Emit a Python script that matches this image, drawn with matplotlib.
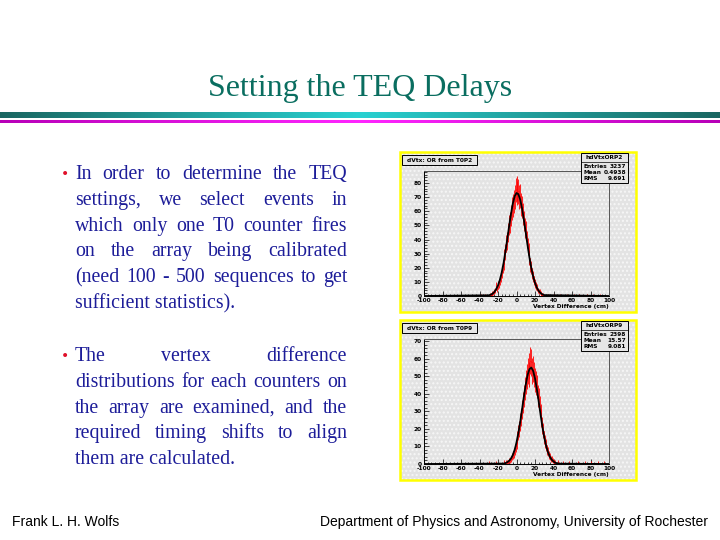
import numpy as np
import matplotlib.pyplot as plt
from matplotlib.patches import Rectangle
from matplotlib.ticker import MultipleLocator

plt.rcParams["axes.unicode_minus"] = False

W, H = 720, 540

title = "Setting the TEQ Delays"
bullet1 = ["In order to determine the TEQ",
           "settings, we select events in",
           "which only one T0 counter fires",
           "on the array being calibrated",
           "(need 100 - 500 sequences to get",
           "sufficient statistics)."]
bullet2 = ["The vertex difference",
           "distributions for each counters on",
           "the array are examined, and the",
           "required timing shifts to align",
           "them are calculated."]
footer_left = "Frank L. H. Wolfs"
footer_right = "Department of Physics and Astronomy, University of Rochester"

# panel 1: T0P2, 1 cm bins from -30 to 30
h1_x = np.arange(-30, 31)
h1_y = [0, 1, 1, 1, 2, 2, 3, 4, 7, 5, 8, 9, 11, 14, 17, 21, 23, 28, 31, 37,
        39, 45, 50, 52, 57, 62, 64, 67, 70, 75, 76, 73, 74, 70, 71, 65, 63, 58, 53, 48,
        46, 40, 35, 32, 27, 22, 20, 16, 14, 11, 9, 7, 6, 4, 3, 3, 2, 1, 1, 1, 0]
h1_tail = [-38, -34, 34, 41, 47, 55, 62, 68, 76, 83, 90]
fit1_x = [-100] + list(range(-30, 31, 2)) + [100]
fit1_y = [0, 0.5, 0.9, 1.6, 2.8, 4.7, 7.5, 11.4, 16.6, 23.3, 31.3, 40.1, 49.3, 58.0,
          65.4, 70.6, 72.9, 72.1, 68.3, 62.0, 53.9, 44.8, 35.7, 27.2, 19.8, 13.9, 9.3,
          5.9, 3.6, 2.1, 1.2, 0.65, 0]

# panel 2: T0P9, 1 cm bins from -15 to 45
h2_x = np.arange(-15, 46)
h2_y = [0, 0, 1, 0, 1, 1, 1, 2, 2, 3, 4, 5, 6, 8, 10, 12, 15, 18, 20, 24,
        27, 31, 35, 39, 43, 47, 50, 53, 51, 56, 59, 58, 53, 54, 51, 48, 46, 44, 39, 37,
        33, 29, 26, 22, 19, 15, 13, 11, 8, 7, 5, 4, 3, 3, 2, 1, 1, 1, 0, 0, 1]
h2_tail = [-30, -22, 50, 57, 66, 74, 81, 88, 95]
fit2_x = [-100] + list(range(-14, 47, 2)) + [100]
fit2_y = [0, 0.25, 0.5, 1.0, 1.8, 3.1, 5.1, 8.1, 12.3, 17.6, 24.0, 31.1, 38.5, 45.3,
          50.8, 54.1, 55.0, 53.1, 48.8, 42.7, 35.6, 28.2, 21.3, 15.3, 10.4, 6.8, 4.2,
          2.5, 1.4, 0.7, 0.4, 0.2, 0]

panels = [
    dict(top=152, name="dVtx: OR from T0P2", hist="hdVtxORP2", entries="3237",
         mean="0.4938", rms="9.691", hx=h1_x, hy=h1_y, tail=h1_tail,
         fx=fit1_x, fy=fit1_y, ymax=88.5),
    dict(top=320, name="dVtx: OR from T0P9", hist="hdVtxORP9", entries="2398",
         mean="15.57", rms="9.081", hx=h2_x, hy=h2_y, tail=h2_tail,
         fx=fit2_x, fy=fit2_y, ymax=71.3),
]

fig = plt.figure(figsize=(7.2, 5.4), dpi=100)
fig.patch.set_facecolor("white")
bg = fig.add_axes([0, 0, 1, 1])
bg.axis("off")
renderer = fig.canvas.get_renderer()

# title and decorative bars
bg.text(360, 96, title, family="Liberation Serif", fontsize=23,
        color="#0a6e60", ha="center", va="baseline")
g = np.abs(np.linspace(-1, 1, W))[:, None]
teal_c, teal_e = np.array([0.16, 0.82, 0.82]), np.array([0.10, 0.40, 0.38])
mag_c, mag_e = np.array([1.0, 0.15, 1.0]), np.array([0.72, 0.0, 0.72])
bg.imshow((teal_c + (teal_e - teal_c) * g)[None, :, :], extent=(0, W, 118.5, 112.5), aspect="auto")
bg.imshow((mag_c + (mag_e - mag_c) * g)[None, :, :], extent=(0, W, 123, 120), aspect="auto")
bg.set_xlim(0, W)
bg.set_ylim(H, 0)

# bullet text, justified
TXT = dict(family="Liberation Serif", fontsize=14.3, color="#1d1d99", va="baseline")
LS = 25.8
XL, XR = 75, 347


def justify(lines, y0):
    for i, line in enumerate(lines):
        y = y0 + i * LS
        if i == len(lines) - 1:
            bg.text(XL, y, line, **TXT)
            continue
        words = line.split()
        texts = [bg.text(0, y, w, **TXT) for w in words]
        widths = [t.get_window_extent(renderer).width for t in texts]
        gap = (XR - XL - sum(widths)) / (len(words) - 1)
        x = XL
        for t, w in zip(texts, widths):
            t.set_x(x)
            x += w + gap
    bg.text(61, y0 - 1, "\u2022", family="DejaVu Sans", fontsize=10,
            color="#e0102a", va="baseline")


justify(bullet1, 179)
justify(bullet2, 361)

bg.text(12, 526, footer_left, family="Liberation Sans", fontsize=10,
        color="black", va="baseline")
bg.text(708, 526, footer_right, family="Liberation Sans", fontsize=10,
        color="black", va="baseline", ha="right")

# ROOT-like histogram panels
SMALL = dict(family="DejaVu Sans", fontsize=4.2, fontweight="bold", color="black")
for p in panels:
    t = p["top"]
    bg.add_patch(Rectangle((400, t), 236, 160, facecolor="#e3e3e3",
                           edgecolor="#f6f6f6", hatch="....", lw=0, zorder=2))
    bg.add_patch(Rectangle((400, t), 236, 160, fill=False,
                           edgecolor="#ffff00", lw=1.8, zorder=3))

    ax = fig.add_axes([424 / W, 1 - (t + 144) / H, 185 / W, 125 / H])
    ax.patch.set_visible(False)
    ax.set_xlim(-100, 100)
    ax.set_ylim(0, p["ymax"])
    hy = np.array(p["hy"], dtype=float)
    hx = p["hx"]
    err = np.sqrt(hy)
    nz = hy > 0
    ax.vlines(hx[nz], (hy - err)[nz], (hy + err)[nz], color="red", lw=0.6)
    ax.hlines(hy[nz], hx[nz] - 0.5, hx[nz] + 0.5, color="red", lw=0.6)
    ax.vlines(p["tail"], 0, 1.5, color="red", lw=0.6)
    ax.plot(p["fx"], p["fy"], color="black", lw=1.3)

    ax.xaxis.set_major_locator(MultipleLocator(20))
    ax.xaxis.set_minor_locator(MultipleLocator(4))
    ax.yaxis.set_major_locator(MultipleLocator(10))
    ax.yaxis.set_minor_locator(MultipleLocator(2))
    ax.tick_params(which="both", direction="in", width=0.5, pad=1.5,
                   labelsize=4.2)
    ax.tick_params(which="major", length=3.5)
    ax.tick_params(which="minor", length=1.8)
    for lab in ax.get_xticklabels() + ax.get_yticklabels():
        lab.set_fontweight("bold")
    for s in ax.spines.values():
        s.set_linewidth(0.7)
    ax.spines["top"].set_color("#555555")
    ax.spines["right"].set_color("#555555")

# overlay for ROOT title / stats boxes, drawn above the frames
top = fig.add_axes([0, 0, 1, 1])
top.set_xlim(0, W)
top.set_ylim(H, 0)
top.axis("off")
for p in panels:
    t = p["top"]
    top.text(609, t + 156, "Vertex Difference (cm)", ha="right", va="baseline", **SMALL)

    top.add_patch(Rectangle((402, t + 3), 75, 10, facecolor="#e6e6e6",
                            edgecolor="black", lw=0.7))
    top.text(439.5, t + 8.3, p["name"], ha="center", va="center", **SMALL)

    top.add_patch(Rectangle((581, t + 1), 47, 30, facecolor="#e6e6e6",
                            edgecolor="black", lw=0.7))
    top.plot([581, 628], [t + 9.5, t + 9.5], color="black", lw=0.5)
    top.text(604.5, t + 5.5, p["hist"], ha="center", va="center", **SMALL)
    rows = [("Entries", p["entries"]), ("Mean", p["mean"]), ("RMS", p["rms"])]
    for k, (lab, val) in enumerate(rows):
        yy = t + 14 + k * 6.3
        top.text(583.5, yy, lab, ha="left", va="center", **SMALL)
        top.text(626, yy, val, ha="right", va="center", **SMALL)

fig.savefig("out.png", dpi=100)
